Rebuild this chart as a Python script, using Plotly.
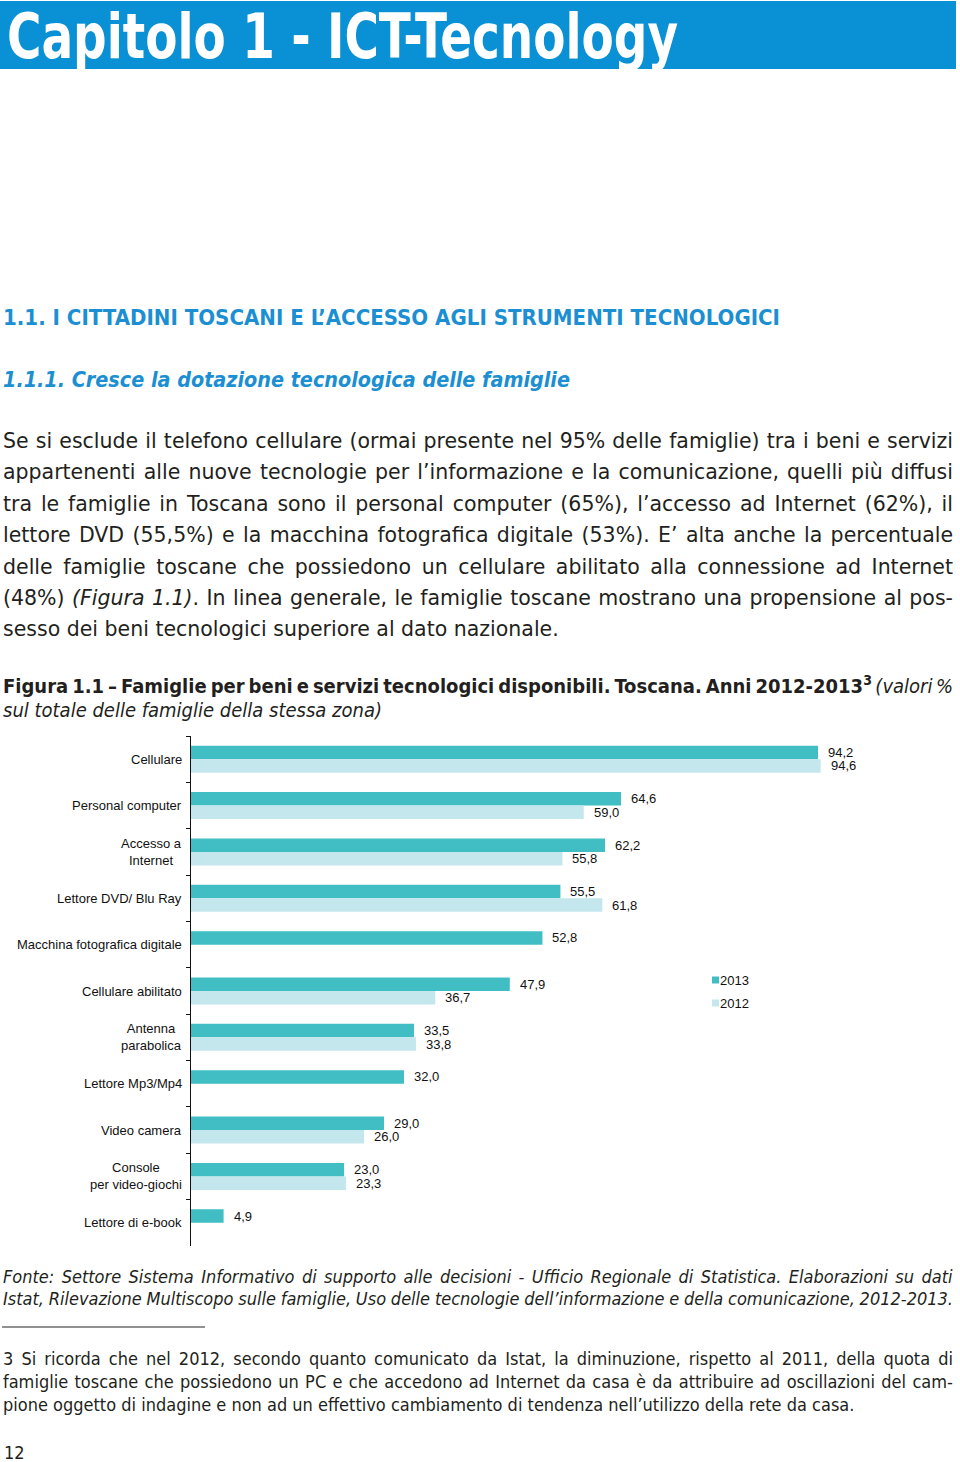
import json
import plotly.graph_objects as go

W, H = 960, 1462

# ---------------- data ----------------
categories = ["Cellulare", "Personal computer", "Accesso a<br>Internet", "Lettore DVD/ Blu Ray",
              "Macchina fotografica digitale", "Cellulare abilitato", "Antenna<br>parabolica",
              "Lettore Mp3/Mp4", "Video camera", "Console<br>per video-giochi", "Lettore di e-book"]
values_2013 = [94.2, 64.6, 62.2, 55.5, 52.8, 47.9, 33.5, 32.0, 29.0, 23.0, 4.9]
values_2012 = [94.6, 59.0, 55.8, 61.8, None, 36.7, 33.8, None, 26.0, 23.3, None]
series_names = ["2013", "2012"]
series_values = [values_2013, values_2012]
series_colors = ["#41bec4", "#c4e7ee"]

# ---------------- layout constants ----------------
NARROW = "Liberation Sans Narrow, DejaVu Sans Condensed, Arial Narrow, sans-serif"
BODY = "DejaVu Sans, Verdana, sans-serif"
CHART = "Liberation Sans, Arial, sans-serif"
BLUE = "#1b8fd2"
TXT = "#231f20"

# plot area in pixels
PX0, PX1 = 191, 191 + 6.656 * 100
PY0, PY1 = 736, 1246

fig = go.Figure()
for name, vals, col in zip(series_names, series_values, series_colors):
    fig.add_trace(go.Bar(
        y=categories, x=vals, name=name, orientation="h",
        marker=dict(color=col, line=dict(width=0)), showlegend=False,
    ))

annotations = []
shapes = []
justify = []
squeeze = []


def px(x):
    return x / W


def py(y):
    return 1 - y / H


def txt(x, y, text, size, family, color=TXT, just=None, squeeze_to=None, weight=None, style=None):
    font = dict(size=size, family=family, color=color)
    if weight:
        font["weight"] = weight
    if style:
        font["style"] = style
    annotations.append(dict(xref="paper", yref="paper", x=px(x), y=py(y), text=text,
                            showarrow=False, xanchor="left", yanchor="middle", align="left",
                            font=font))
    if just:
        justify.append([len(annotations) - 1, just])
    if squeeze_to:
        squeeze.append([len(annotations) - 1, squeeze_to])


# value labels (from data)
for si, (vals, shift) in enumerate(zip(series_values, [6.75, -6.75])):
    for i, v in enumerate(vals):
        if v is None:
            continue
        annotations.append(dict(xref="x", yref="y", x=v, y=i, text=f"{v:.1f}".replace(".", ","),
                                showarrow=False, xanchor="left", yanchor="middle", xshift=8,
                                yshift=shift, font=dict(size=13, family=CHART, color="#111")))

# category labels (centered multi-line like original)
for i, c in enumerate(categories):
    annotations.append(dict(xref="paper", yref="y", x=px(PX0), y=i, text=c, showarrow=False,
                            xanchor="right", yanchor="middle", align="center", xshift=-7,
                            font=dict(size=13, family=CHART, color="#111")))

# legend
for k, (name, col) in enumerate(zip(series_names, series_colors)):
    yc = 980 + 23 * k
    shapes.append(dict(type="rect", xref="paper", yref="paper", x0=px(712), x1=px(719),
                       y0=py(yc + 3.5), y1=py(yc - 3.5), fillcolor=col, line=dict(width=0)))
    txt(718, yc, name, 13, CHART, color="#111")

# banner
shapes.append(dict(type="rect", xref="paper", yref="paper", x0=px(0), x1=px(956),
                   y0=py(69), y1=py(1), fillcolor="#0a90d4", line=dict(width=0), layer="below"))
txt(5, 37, "Capitolo 1 - ICT-Tecnology", 63, NARROW, color="white", weight="bold", squeeze_to=678)

txt(1, 317, "1.1. I CITTADINI TOSCANI E L’ACCESSO AGLI STRUMENTI TECNOLOGICI", 22, NARROW,
    color=BLUE, weight="bold", squeeze_to=780)
txt(1, 379, "1.1.1. Cresce la dotazione tecnologica delle famiglie", 22, NARROW,
    color=BLUE, weight="bold", style="italic", squeeze_to=570)

body = [
    "Se si esclude il telefono cellulare (ormai presente nel 95% delle famiglie) tra i beni e servizi",
    "appartenenti alle nuove tecnologie per l’informazione e la comunicazione, quelli più diffusi",
    "tra le famiglie in Toscana sono il personal computer (65%), l’accesso ad Internet (62%), il",
    "lettore DVD (55,5%) e la macchina fotografica digitale (53%). E’ alta anche la percentuale",
    "delle famiglie toscane che possiedono un cellulare abilitato alla connessione ad Internet",
    "(48%) <i>(Figura 1.1)</i>. In linea generale, le famiglie toscane mostrano una propensione al pos-",
    "sesso dei beni tecnologici superiore al dato nazionale.",
]
for k, line in enumerate(body):
    txt(1, 441 + 31.4 * k, line, 20.5, BODY, just=(953 if k < len(body) - 1 else None))

txt(1, 685, "<b>Figura 1.1 – Famiglie per beni e servizi tecnologici disponibili. Toscana. Anni 2012-2013<sup>3</sup></b> <i>(valori %</i>",
    20, NARROW, just=953)
txt(1, 710, "<i>sul totale delle famiglie della stessa zona)</i>", 20, NARROW)

txt(1, 1276, "<i>Fonte: Settore Sistema Informativo di supporto alle decisioni - Ufficio Regionale di Statistica. Elaborazioni su dati</i>",
    18, NARROW, just=953)
txt(1, 1298, "<i>Istat, Rilevazione Multiscopo sulle famiglie, Uso delle tecnologie dell’informazione e della comunicazione, 2012-2013.</i>",
    18, NARROW, just=953)

shapes.append(dict(type="line", xref="paper", yref="paper", x0=px(2), x1=px(205), y0=py(1327), y1=py(1327),
                   line=dict(color="#222", width=1)))

foot = [
    "3 Si ricorda che nel 2012, secondo quanto comunicato da Istat, la diminuzione, rispetto al 2011, della quota di",
    "famiglie toscane che possiedono un PC e che accedono ad Internet da casa è da attribuire ad oscillazioni del cam-",
    "pione oggetto di indagine e non ad un effettivo cambiamento di tendenza nell’utilizzo della rete da casa.",
]
for k, line in enumerate(foot):
    txt(1, 1358 + 23 * k, line, 18, NARROW, just=(953 if k < 2 else None))

txt(2, 1452, "12", 18, NARROW)

fig.update_layout(
    width=W, height=H, margin=dict(l=0, r=0, t=0, b=0),
    paper_bgcolor="white", plot_bgcolor="white",
    barmode="group", bargap=0.418, bargroupgap=0,
    xaxis=dict(domain=[px(PX0), px(PX1)], range=[0, 100], visible=False, fixedrange=True),
    yaxis=dict(domain=[py(PY1), py(PY0)], type="category", categoryorder="array",
               categoryarray=categories, range=[len(categories) - 0.5, -0.5],
               showticklabels=False, ticks="outside", tickson="boundaries", ticklen=4,
               tickcolor="#111", showline=True, linecolor="#111", linewidth=1.2,
               showgrid=False, zeroline=False, fixedrange=True),
    annotations=annotations, shapes=shapes, showlegend=False,
)

post = """
document.body.style.margin = '0';
var gd = document.getElementById('{plot_id}');
var svg = gd.querySelector('.main-svg').getBoundingClientRect();
function tx(i) {
  return gd.querySelector('.annotation[data-index="' + i + '"] text.annotation-text');
}
%s.forEach(function(p){
  var t = tx(p[0]);
  if (!t) return;
  var r = t.getBoundingClientRect();
  var left = r.left - svg.left;
  var n = (t.textContent.match(/ /g) || []).length;
  if (n > 0) t.style.wordSpacing = ((p[1] - left - r.width) / n) + 'px';
});
%s.forEach(function(p){
  var t = tx(p[0]);
  if (!t) return;
  var r = t.getBoundingClientRect();
  var left = r.left - svg.left;
  var cur = t.getComputedTextLength();
  var scale = (p[1] - left) / r.width;
  t.setAttribute('textLength', cur * scale);
  t.setAttribute('lengthAdjust', 'spacingAndGlyphs');
});
""" % (json.dumps(justify), json.dumps(squeeze))

fig.write_html("out.html", post_script=post, config={"responsive": False, "displayModeBar": False})
